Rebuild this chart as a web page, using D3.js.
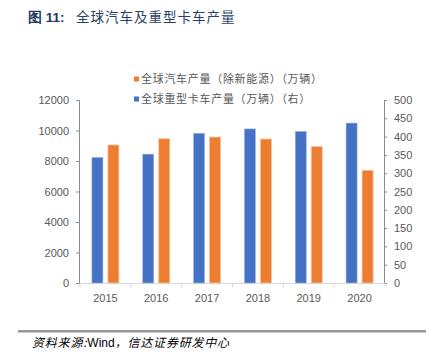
<!DOCTYPE html>
<html><head><meta charset="utf-8">
<script src="https://cdn.jsdelivr.net/npm/d3@7"></script>
<style>
body{margin:0;background:#fff;}
svg{display:block;}
</style></head>
<body>
<svg id="c" width="436" height="358"></svg>
<script>
const years = ["2015","2016","2017","2018","2019","2020"];
const carProduction = [9050, 9460, 9570, 9440, 8940, 7390];   // left axis
const truckProduction = [343, 352, 409, 421, 414, 437];       // right axis
const leftTicks = [0,2000,4000,6000,8000,10000,12000];
const rightTicks = [0,50,100,150,200,250,300,350,400,450,500];
const seriesNames = ["全球汽车产量（除新能源）（万辆）","全球重型卡车产量（万辆）（右）"];
const colors = {car:"#ED7D31", truck:"#4472C4"};

(function(){
const svg = d3.select("#c");
const font = "'Liberation Sans', Arial, sans-serif";
const cjk = "'Noto Sans CJK SC', sans-serif";

// Title
const title = svg.append("text").attr("x",28).attr("y",22).attr("font-size",13.5);
title.append("tspan").attr("font-family",font).attr("font-weight","bold").attr("fill","#1F3864").text("图 11:");
title.append("tspan").attr("font-family",cjk).attr("fill","#2a3f66").attr("x",76).attr("letter-spacing",1).text("全球汽车及重型卡车产量");

const pl=80, pr=385, pt=100, pb=283;
const x = d3.scaleBand().domain(years).range([pl,pr]);
const yL = d3.scaleLinear().domain([0,12000]).range([pb,pt]);
const yR = d3.scaleLinear().domain([0,500]).range([pb,pt]);

// Left axis
const gL = svg.append("g").attr("transform",`translate(${pl-1},0)`)
  .call(d3.axisLeft(yL).tickValues(leftTicks).tickFormat(d3.format("d")).tickSize(3).tickPadding(7));
gL.select(".domain").attr("stroke","#8c8c8c");
gL.selectAll(".tick line").attr("stroke","#8c8c8c");
gL.selectAll("text").attr("font-family",font).attr("font-size",11).attr("fill","#595959");

// Right axis
const gR = svg.append("g").attr("transform",`translate(${pr-1},0)`)
  .call(d3.axisRight(yR).tickValues(rightTicks).tickFormat(d3.format("d")).tickSize(3).tickPadding(7));
gR.select(".domain").attr("stroke","#8c8c8c");
gR.selectAll(".tick line").attr("stroke","#8c8c8c");
gR.selectAll("text").attr("font-family",font).attr("font-size",11).attr("fill","#595959");

// X axis
const gX = svg.append("g").attr("transform",`translate(0,${pb+0.5})`);
gX.append("line").attr("x1",pl).attr("x2",pr).attr("stroke","#d9d9d9");
gX.selectAll("line.t").data(years.concat(["end"])).join("line")
  .attr("x1",(d,i)=> i<years.length ? x(d) : pr).attr("x2",(d,i)=> i<years.length ? x(d) : pr)
  .attr("y1",0).attr("y2",4).attr("stroke","#d9d9d9");
gX.selectAll("text").data(years).join("text")
  .attr("x",d=>x(d)+x.bandwidth()/2).attr("y",18).attr("text-anchor","middle")
  .attr("font-family",font).attr("font-size",11).attr("fill","#595959").text(d=>d);

const bw = 11;
// truck bars (blue, right axis)
svg.selectAll("rect.truck").data(years).join("rect").attr("class","truck")
  .attr("x",(d)=>x(d)+x.bandwidth()/2-8-bw/2)
  .attr("width",bw)
  .attr("y",(d,i)=>yR(truckProduction[i]))
  .attr("height",(d,i)=>pb-yR(truckProduction[i]))
  .attr("fill",colors.truck).attr("stroke","#9db3e0").attr("stroke-width",0.6);
// car bars (orange, left axis)
svg.selectAll("rect.car").data(years).join("rect").attr("class","car")
  .attr("x",(d)=>x(d)+x.bandwidth()/2+8-bw/2)
  .attr("width",bw)
  .attr("y",(d,i)=>yL(carProduction[i]))
  .attr("height",(d,i)=>pb-yL(carProduction[i]))
  .attr("fill",colors.car).attr("stroke","#f6c3a0").attr("stroke-width",0.8);

// Legend
const legend = [{c:colors.car,t:seriesNames[0],y:79},{c:colors.truck,t:seriesNames[1],y:99}];
legend.forEach(l=>{
  svg.append("rect").attr("x",134).attr("y",l.y-2.5).attr("width",5).attr("height",5).attr("fill",l.c);
  svg.append("text").attr("x",141).attr("y",l.y+4).attr("font-family",cjk).attr("font-size",11)
    .attr("letter-spacing",0.7).attr("fill","#595959").text(l.t);
});

// Bottom rule and source
svg.append("line").attr("x1",18).attr("x2",426).attr("y1",331).attr("y2",331).attr("stroke","#777").attr("stroke-width",1.5);
svg.append("line").attr("x1",18).attr("x2",426).attr("y1",332.5).attr("y2",332.5).attr("stroke","#bbb").attr("stroke-width",0.8);
const src = svg.append("text").attr("x",32).attr("y",347).attr("font-size",12).attr("fill","#000");
src.append("tspan").attr("font-family",cjk).attr("font-style","italic").attr("letter-spacing",0.8).text("资料来源:");
src.append("tspan").attr("font-family",font).text("Wind");
src.append("tspan").attr("font-family",cjk).attr("font-style","italic").attr("letter-spacing",0.8).text("，信达证券研发中心");
})();
</script>
</body></html>
